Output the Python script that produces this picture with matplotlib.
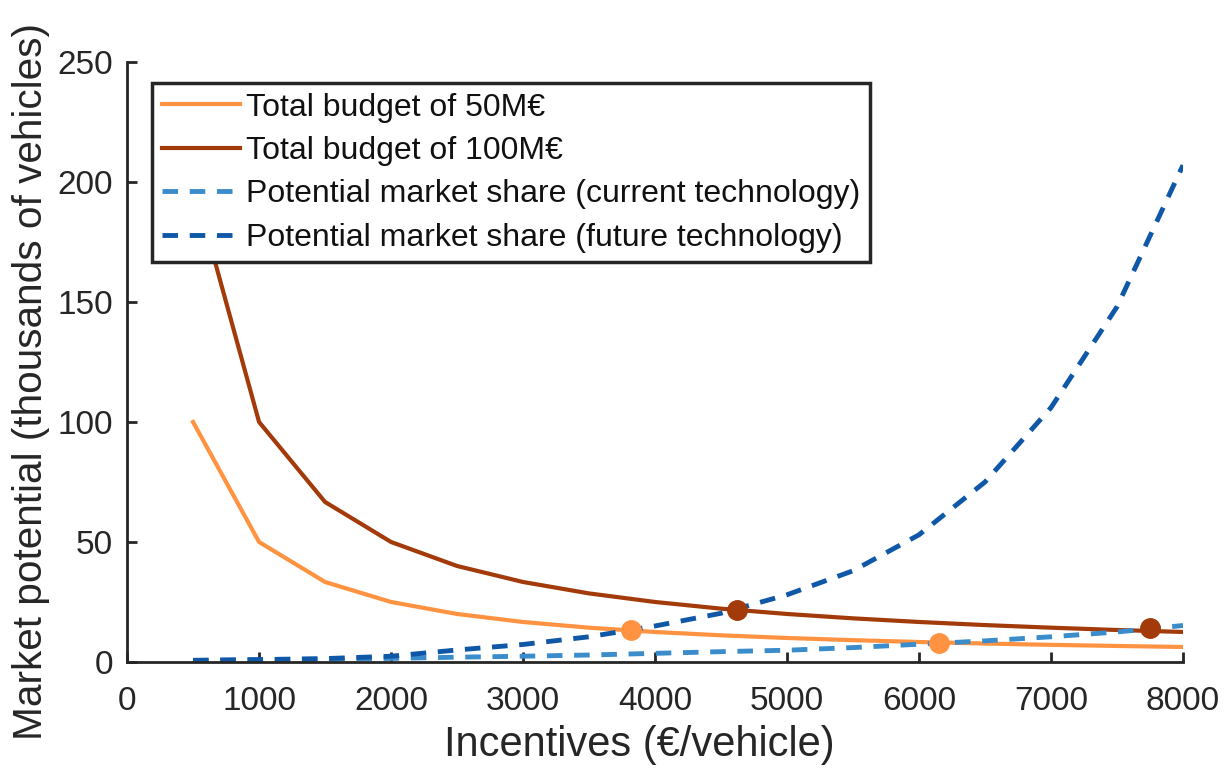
import matplotlib
matplotlib.use("Agg")
import matplotlib.pyplot as plt
import numpy as np

plt.rcParams['font.family'] = ['Liberation Sans', 'DejaVu Sans']

# Data
incentives = [500, 1000, 1500, 2000, 2500, 3000, 3500, 4000,
              4500, 5000, 5500, 6000, 6500, 7000, 7500, 8000]
budget_50 = [100.0, 50.0, 33.33, 25.0, 20.0, 16.67, 14.29, 12.5,
             11.11, 10.0, 9.09, 8.33, 7.69, 7.14, 6.67, 6.25]
budget_100 = [200.0, 100.0, 66.67, 50.0, 40.0, 33.33, 28.57, 25.0,
              22.22, 20.0, 18.18, 16.67, 15.38, 14.29, 13.33, 12.5]
current_tech = [0.6, 0.9, 1.2, 1.5, 2.0, 2.4, 2.9, 3.6,
                4.3, 4.9, 6.0, 7.4, 8.8, 10.5, 12.5, 15.2]
future_tech = [0.7, 1.0, 1.4, 2.4, 5.0, 7.3, 10.5, 15.0,
               20.3, 28.0, 38.0, 53.0, 75.0, 106.0, 148.0, 207.0]
inter_50_x = [3820, 6150]
inter_50_y = [13.2, 8.0]
inter_100_x = [4620, 7750]
inter_100_y = [21.7, 14.2]

labels = ['Total budget of 50M€', 'Total budget of 100M€',
          'Potential market share (current technology)',
          'Potential market share (future technology)']
xticks = [0, 1000, 2000, 3000, 4000, 5000, 6000, 7000, 8000]
yticks = [0, 50, 100, 150, 200, 250]

c_orange = '#FF9342'
c_brown = '#A23A0A'
c_lblue = '#3A8CCB'
c_dblue = '#0F58A8'
axc = '#262626'

fig = plt.figure(figsize=(12.3, 7.71), dpi=100)
ax = fig.add_axes([0.1033, 0.1414, 0.8585, 0.7782])

ax.plot(incentives, budget_50, color=c_orange, lw=3.0, label=labels[0])
ax.plot(incentives, budget_100, color=c_brown, lw=3.0, label=labels[1])
ax.plot(incentives, current_tech, color=c_lblue, lw=3.5, ls=(0, (3.2, 2.4)), label=labels[2])
ax.plot(incentives, future_tech, color=c_dblue, lw=3.5, ls=(0, (3.2, 2.4)), label=labels[3])
ax.plot(inter_50_x, inter_50_y, 'o', color=c_orange, ms=14, mec=c_orange)
ax.plot(inter_100_x, inter_100_y, 'o', color=c_brown, ms=14, mec=c_brown)

ax.set_xlim(0, 8000)
ax.set_ylim(0, 250)
ax.set_xticks(xticks)
ax.set_yticks(yticks)
ax.spines['top'].set_visible(False)
ax.spines['right'].set_visible(False)
for s in ['left', 'bottom']:
    ax.spines[s].set_color(axc)
    ax.spines[s].set_linewidth(2.0)
ax.tick_params(direction='in', length=7, width=2.0, color=axc,
               labelsize=24, labelcolor=axc)
ax.tick_params(axis='y', pad=10)
ax.tick_params(axis='x', pad=17)
ax.set_xlabel('Incentives (€/vehicle)', fontsize=30, color=axc)
ax.set_ylabel('Market potential (thousands of vehicles)', fontsize=29.2, color=axc)
ax.xaxis.set_label_coords(0.485, -0.138)
ax.yaxis.set_label_coords(-0.091, 0.467)
ax.xaxis.label.set_va('center')
ax.yaxis.label.set_va('center')

leg = ax.legend(loc='upper left', bbox_to_anchor=(0.0237, 0.965), fontsize=23,
                frameon=True, fancybox=False, edgecolor=axc, facecolor='white',
                framealpha=1.0, handlelength=2.45, handletextpad=0.2,
                borderpad=0.3, labelspacing=0.42, borderaxespad=0)
leg.get_frame().set_linewidth(2.5)
for t in leg.get_texts():
    t.set_color('#111111')

fig.savefig('out.png', dpi=100)
